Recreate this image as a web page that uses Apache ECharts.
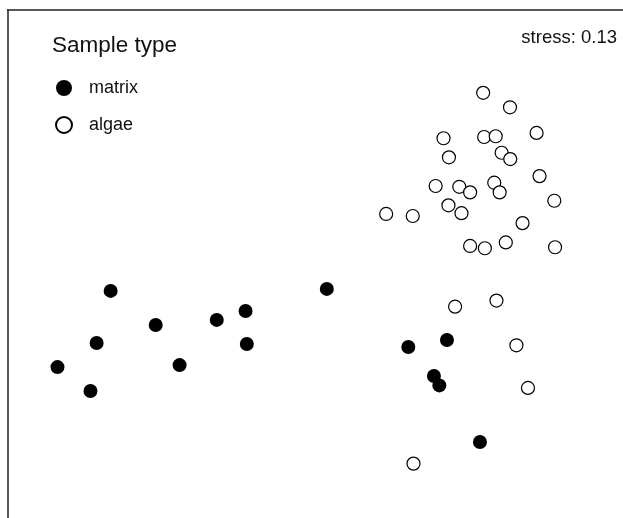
<!DOCTYPE html>
<html>
<head>
<meta charset="utf-8">
<style>
  html, body { margin: 0; padding: 0; background: #fff; }
  #chart { width: 623px; height: 518px; }
</style>
<script src="https://cdn.jsdelivr.net/npm/echarts@6/dist/echarts.min.js"></script>
</head>
<body>
<div id="chart"></div>
<script>
// NMDS ordination scores, one pair of arrays per sample type
const matrixX = [-1.081, -0.898, -1.138, -1.297, -1.163, -0.801, -0.650, -0.533, -0.528, -0.203,
                 0.128, 0.285, 0.232, 0.254, 0.419];
const matrixY = [-0.106, -0.240, -0.311, -0.406, -0.500, -0.398, -0.220, -0.185, -0.315, -0.098,
                 -0.327, -0.299, -0.441, -0.478, -0.701];

const algaeX = [0.432, 0.541, 0.271, 0.436, 0.483, 0.649, 0.293, 0.507, 0.542, 0.661,
                0.239, 0.335, 0.379, 0.477, 0.499, 0.721, 0.291, 0.344, 0.038, 0.146,
                0.592, 0.379, 0.439, 0.524, 0.724, 0.318, 0.486, 0.567, 0.614, 0.149];
const algaeY = [0.674, 0.617, 0.495, 0.500, 0.503, 0.516, 0.420, 0.438, 0.413, 0.346,
                0.307, 0.304, 0.282, 0.320, 0.282, 0.249, 0.231, 0.200, 0.197, 0.189,
                0.161, 0.071, 0.062, 0.085, 0.066, -0.168, -0.144, -0.320, -0.488, -0.786];

const sampleTypes = ['matrix', 'algae'];
const legendTitle = 'Sample type';
const stressValue = 0.13;

const pairs = (xs, ys) => xs.map((x, i) => [x, ys[i]]);

const font = '"Liberation Sans", Arial, Helvetica, sans-serif';
const chart = echarts.init(document.getElementById('chart'), null, { renderer: 'canvas' });

chart.setOption({
  animation: false,
  backgroundColor: '#ffffff',
  title: [
    {
      text: legendTitle,
      left: 52, top: 34, padding: 0,
      textStyle: { fontFamily: font, fontSize: 22.5, fontWeight: 'normal', color: '#111' }
    },
    {
      text: 'stress: ' + stressValue.toFixed(2),
      right: 6, top: 28, padding: 0,
      textStyle: { fontFamily: font, fontSize: 18.5, fontWeight: 'normal', color: '#111' }
    }
  ],
  legend: {
    data: sampleTypes,
    orient: 'vertical',
    left: 55, top: 79, padding: 0,
    itemWidth: 16, itemHeight: 16, itemGap: 19,
    icon: 'circle',
    textStyle: { fontFamily: font, fontSize: 18, color: '#111', padding: [0, 0, 0, 12] },
    selectedMode: false
  },
  grid: { left: 7.5, top: 10, right: 0, bottom: 0 },
  xAxis: {
    type: 'value', position: 'top', min: -1.5, max: 1.0,
    axisLine: { show: true, onZero: false, lineStyle: { color: '#222', width: 1.5 } },
    axisTick: { show: false }, axisLabel: { show: false }, splitLine: { show: false }
  },
  yAxis: {
    type: 'value', min: -1.0, max: 1.0,
    axisLine: { show: true, onZero: false, lineStyle: { color: '#222', width: 1.5 } },
    axisTick: { show: false }, axisLabel: { show: false }, splitLine: { show: false }
  },
  series: [
    {
      name: sampleTypes[0], type: 'scatter', symbol: 'circle', symbolSize: 14,
      itemStyle: { color: '#000', opacity: 1 },
      emphasis: { disabled: true },
      data: pairs(matrixX, matrixY)
    },
    {
      name: sampleTypes[1], type: 'scatter', symbol: 'circle', symbolSize: 13,
      itemStyle: { color: '#fff', borderColor: '#000', borderWidth: 1.2, opacity: 1 },
      emphasis: { disabled: true },
      data: pairs(algaeX, algaeY)
    }
  ]
});
</script>
</body>
</html>
